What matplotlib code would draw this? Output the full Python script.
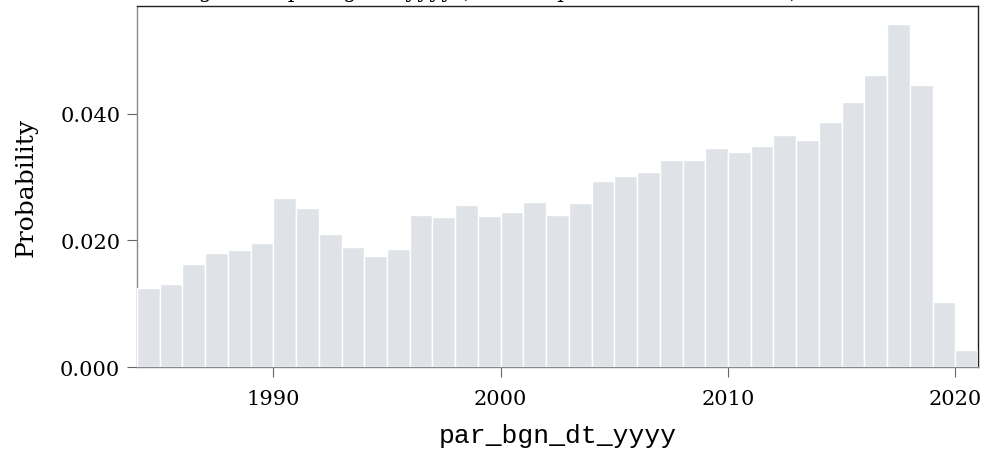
import matplotlib
matplotlib.use("Agg")
import matplotlib.pyplot as plt
import numpy as np

years = list(range(1984, 2021))
probability = [
    0.01246, 0.01315, 0.01621, 0.01799, 0.01853, 0.01953, 0.02675, 0.02506,
    0.02100, 0.01889, 0.01752, 0.01862, 0.02398, 0.02364, 0.02564, 0.02390,
    0.02443, 0.02606, 0.02395, 0.02590, 0.02938, 0.03012, 0.03080, 0.03265,
    0.03276, 0.03455, 0.03391, 0.03486, 0.03660, 0.03592, 0.03866, 0.04182,
    0.04609, 0.05415, 0.04451, 0.01031, 0.00261,
]
xticks = [1990, 2000, 2010, 2020]
yticks = [0.000, 0.020, 0.040]
title = "Histogram of par bgn dt yyyy (this sample: normalized to 1.0)"
xlabel = "par_bgn_dt_yyyy"
ylabel = "Probability"

plt.rcParams['font.family'] = ['DejaVu Serif']

fig = plt.figure(figsize=(9.87, 4.52), dpi=100)
ax = fig.add_axes([137/987, 1 - 368/452, (978 - 137)/987, (368 - 7)/452])

ax.bar(years, probability, width=1.0, align='edge', color='#dfe3e7',
       edgecolor='white', linewidth=1.0, zorder=3)

ax.set_xlim(1984, 2021)
ax.set_ylim(0, 0.057)
ax.set_xticks(xticks)
ax.set_xticklabels([str(t) for t in xticks])
ax.set_yticks(yticks)
ax.set_yticklabels([f"{t:.3f}" for t in yticks])
ax.tick_params(axis='both', labelsize=15, length=7, width=0.8, color='#666666',
               direction='out')
ax.tick_params(axis='x', pad=9)
ax.tick_params(axis='y', pad=5)

for s in ['left', 'bottom']:
    ax.spines[s].set_color('#888888')
    ax.spines[s].set_linewidth(1.0)
for s in ['top', 'right']:
    ax.spines[s].set_color('#222222')
    ax.spines[s].set_linewidth(1.0)

ax.set_xlabel(xlabel, fontsize=19, family='Liberation Mono', labelpad=11)
ax.set_ylabel(ylabel, fontsize=18, labelpad=16)

fig.text(0.476, 1 + 2.5/452, title, ha='center', va='baseline', fontsize=15)

fig.savefig("out.png", dpi=100)
